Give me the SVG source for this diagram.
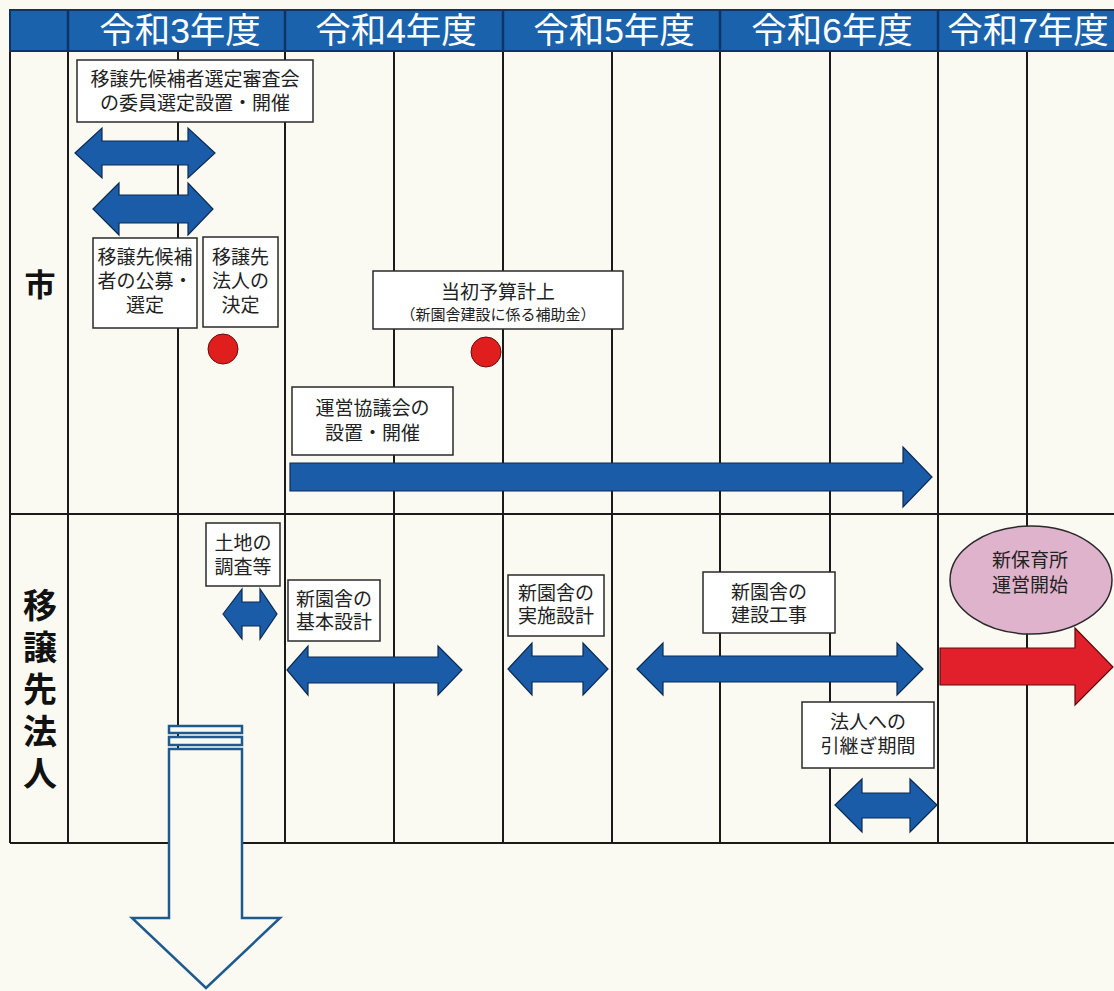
<svg xmlns="http://www.w3.org/2000/svg" width="1114" height="991" viewBox="0 0 1114 991">
<style>
.grid{stroke:#1a1a1a;stroke-width:2;fill:none}
.hdiv{stroke:#0c3566;stroke-width:2.5}
.ht{font-family:"Liberation Sans","Noto Sans CJK JP",sans-serif;font-size:35.5px;fill:#ffffff;text-anchor:middle;dominant-baseline:central}
.lab{font-family:"Liberation Sans","Noto Sans CJK JP",sans-serif;font-size:34px;font-weight:700;fill:#111;text-anchor:middle;dominant-baseline:central}
.box{fill:#ffffff;stroke:#2a2a2a;stroke-width:1.5}
.t{font-family:"Liberation Sans","Noto Sans CJK JP",sans-serif;font-size:19px;fill:#222;text-anchor:middle;dominant-baseline:central}
.ts{font-size:15px}
.ba{fill:#1a5ca8;stroke:#0c2a52;stroke-width:1.2}
.ra{fill:#e2202c;stroke:#5a0a0a;stroke-width:1.2}
.dot{fill:#e01e1e;stroke:#6a0c0c;stroke-width:1}
.hollow{fill:#fafaf3;stroke:#1f5a8e;stroke-width:2.5}
</style>
<rect x="0" y="0" width="1114" height="991" fill="#fafaf3"/>
<g id="grid">
<path class="grid" d="M10,50V843M68,50V843M178,51V843M285,51V843M394,51V843M503,51V843M612,51V843M720,51V843M830,51V843M938,51V843M1027,51V843M10,514H1114M10,843H1114"/>
</g>
<g id="header">
<rect x="10" y="10" width="1106" height="41" fill="#1b62ad" stroke="#0c3566" stroke-width="2"/>
<path class="hdiv" d="M68,10V51M285,10V51M503,10V51M720,10V51M938,10V51"/>
<text class="ht" x="180" y="31">令和3年度</text>
<text class="ht" x="396" y="31">令和4年度</text>
<text class="ht" x="614" y="31">令和5年度</text>
<text class="ht" x="832" y="31">令和6年度</text>
<text class="ht" x="1028" y="31">令和7年度</text>
</g>
<g id="labels">
<text class="lab" x="40" y="285" style="font-size:31px">市</text>
<text class="lab" x="40" y="606">移</text>
<text class="lab" x="40" y="648">譲</text>
<text class="lab" x="40" y="690">先</text>
<text class="lab" x="40" y="732">法</text>
<text class="lab" x="40" y="774">人</text>
</g>
<g id="connectors">
<path class="ba" d="M75,153L102,128L102,141L188,141L188,128L215,153L188,178L188,165L102,165L102,178Z"/>
<path class="ba" d="M93,209L119,183L119,195L188,195L188,183L213,209L188,235L188,223L119,223L119,235Z"/>
<path class="ba" d="M290,463L903,463L903,447L932,477L903,507L903,491L290,491Z"/>
<path class="ba" d="M223,614L242,589L242,602L260,602L260,589L277,614L260,639L260,626L242,626L242,639Z"/>
<path class="ba" d="M287,670L308,646L308,657L438,657L438,646L462,670L438,695L438,683L308,683L308,695Z"/>
<path class="ba" d="M508,669L532,643L532,656L583,656L583,643L608,669L583,695L583,682L532,682L532,695Z"/>
<path class="ba" d="M637,669L663,643L663,656L897,656L897,643L923,669L897,695L897,682L663,682L663,695Z"/>
<path class="ba" d="M835,805L862,779L862,793L910,793L910,779L937,805L910,832L910,818L862,818L862,832Z"/>
<path class="ra" d="M940,648L1075,648L1075,628L1113,667L1075,705L1075,685L940,685Z"/>
<rect class="hollow" x="169" y="726" width="73" height="7"/>
<rect class="hollow" x="169" y="737" width="73" height="8"/>
<path class="hollow" d="M169,749L169,918L132,918L206,988L280,918L242,918L242,749Z"/>
</g>
<g id="n1">
<rect class="box" x="77" y="60" width="236" height="62"/>
<text class="t"><tspan x="195" y="79">移譲先候補者選定審査会</tspan><tspan x="195" y="103">の委員選定設置・開催</tspan></text>
</g>
<g id="n2">
<rect class="box" x="93" y="238" width="104" height="90"/>
<text class="t"><tspan x="145" y="257">移譲先候補</tspan><tspan x="145" y="281">者の公募・</tspan><tspan x="145" y="305">選定</tspan></text>
</g>
<g id="n3">
<rect class="box" x="203" y="237" width="75" height="90"/>
<text class="t"><tspan x="240.5" y="257">移譲先</tspan><tspan x="240.5" y="281">法人の</tspan><tspan x="240.5" y="305">決定</tspan></text>
</g>
<g id="dot1"><circle class="dot" cx="223" cy="349" r="15"/></g>
<g id="n4">
<rect class="box" x="373" y="271" width="250" height="58"/>
<text class="t"><tspan x="498" y="292">当初予算計上</tspan><tspan class="ts" x="498" y="314">（新園舎建設に係る補助金）</tspan></text>
</g>
<g id="dot2"><circle class="dot" cx="486" cy="352" r="15"/></g>
<g id="n5">
<rect class="box" x="292" y="387" width="161" height="68"/>
<text class="t"><tspan x="372.5" y="408">運営協議会の</tspan><tspan x="372.5" y="433">設置・開催</tspan></text>
</g>
<g id="n6">
<rect class="box" x="206" y="523" width="74" height="63"/>
<text class="t"><tspan x="243" y="543">土地の</tspan><tspan x="243" y="567">調査等</tspan></text>
</g>
<g id="n7">
<rect class="box" x="288" y="580" width="92" height="61"/>
<text class="t"><tspan x="334" y="599">新園舎の</tspan><tspan x="334" y="622">基本設計</tspan></text>
</g>
<g id="n8">
<rect class="box" x="508" y="575" width="96" height="61"/>
<text class="t"><tspan x="556" y="593">新園舎の</tspan><tspan x="556" y="616">実施設計</tspan></text>
</g>
<g id="n9">
<rect class="box" x="703" y="572" width="132" height="61"/>
<text class="t"><tspan x="769" y="592">新園舎の</tspan><tspan x="769" y="615">建設工事</tspan></text>
</g>
<g id="n10">
<rect class="box" x="802" y="702" width="132" height="66"/>
<text class="t"><tspan x="868" y="722">法人への</tspan><tspan x="868" y="746">引継ぎ期間</tspan></text>
</g>
<g id="n11">
<ellipse cx="1031" cy="580" rx="81" ry="54" fill="#dfb3cb" stroke="#2a2a2a" stroke-width="1.5"/>
<text class="t"><tspan x="1030" y="560">新保育所</tspan><tspan x="1030" y="585">運営開始</tspan></text>
</g>
</svg>
